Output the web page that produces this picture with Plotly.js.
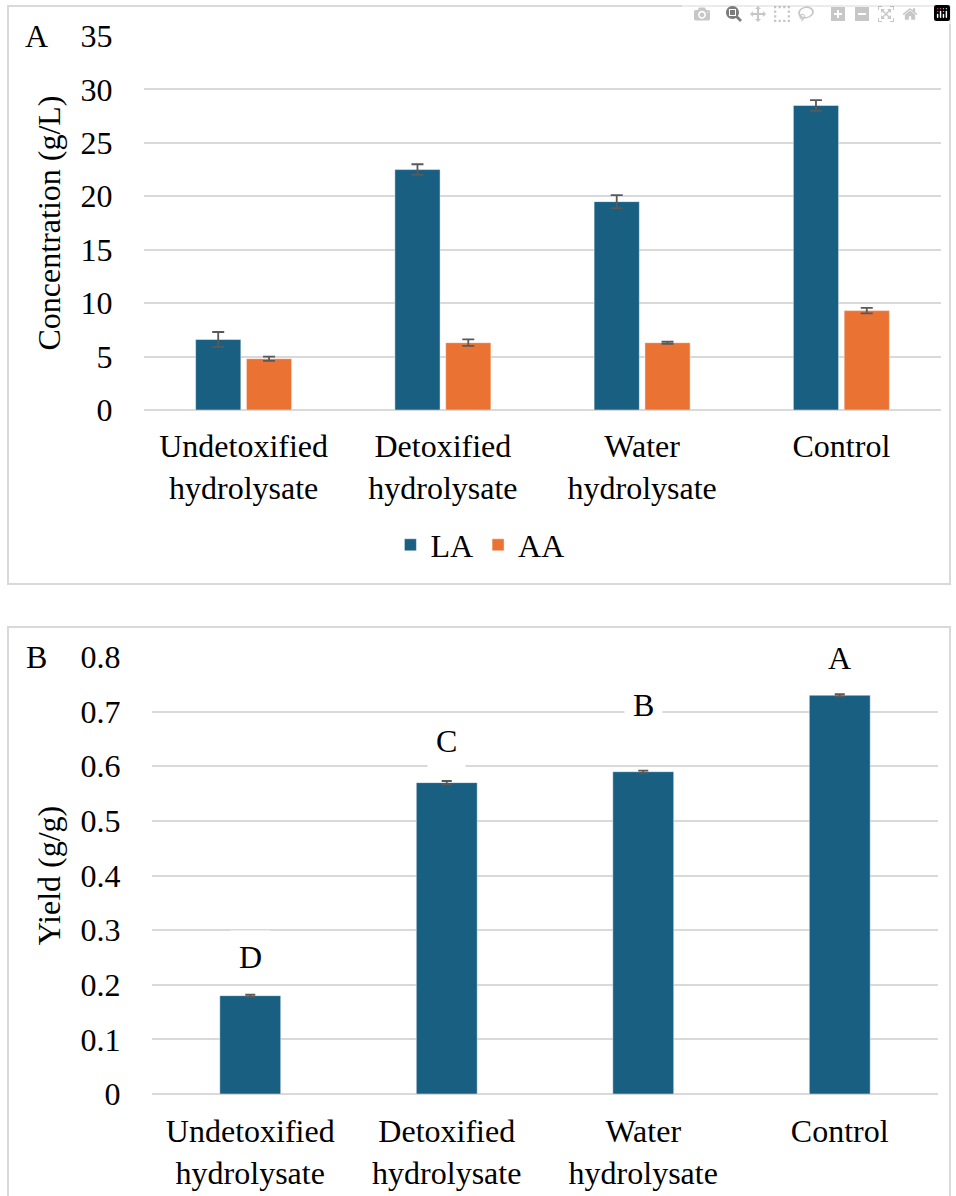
<!DOCTYPE html>
<html><head><meta charset="utf-8">
<script src="https://cdn.plot.ly/plotly-3.0.1.min.js"></script>
<style>
html, body { margin:0; padding:0; background:#fff; }
#chart text { font-family: "Liberation Serif", "Times New Roman", Tinos, serif !important; }
</style>
</head><body><div id="chart"></div>
<script>
var categories = ["Undetoxified<br>hydrolysate", "Detoxified<br>hydrolysate", "Water<br>hydrolysate", "Control"];
var laConc = [6.6, 22.5, 19.5, 28.5];
var laErr  = [0.7, 0.5, 0.6, 0.5];
var aaConc = [4.8, 6.3, 6.3, 9.3];
var aaErr  = [0.2, 0.3, 0.1, 0.25];
var yieldVals = [0.18, 0.57, 0.59, 0.73];
var yieldErr  = [0.002, 0.003, 0.002, 0.002];
var letters = ["D", "C", "B", "A"];
var letterHeights = [0.251, 0.646, 0.712, 0.798];

var figW = 956, figH = 1196;
function toPx(v) { return v / figW; }
function toPy(v) { return 1 - v / figH; }
var gridCol = "#d9d9d9";
var serif = "Liberation Serif";

var traces = [
  {type:"bar", name:"LA", x:categories, y:laConc, xaxis:"x", yaxis:"y",
   marker:{color:"#185F82", line:{color:"rgba(255,255,255,0.45)", width:1}},
   error_y:{type:"data", array:laErr, visible:true, color:"#595959", thickness:1.8, width:6}},
  {type:"bar", name:"AA", x:categories, y:aaConc, xaxis:"x", yaxis:"y",
   marker:{color:"#EA7333", line:{color:"rgba(255,255,255,0.45)", width:1}},
   error_y:{type:"data", array:aaErr, visible:true, color:"#595959", thickness:1.8, width:6}},
  {type:"bar", name:"Yield", x:categories, y:yieldVals, xaxis:"x2", yaxis:"y2",
   showlegend:false, width:0.31,
   marker:{color:"#185F82", line:{color:"rgba(255,255,255,0.45)", width:1}},
   error_y:{type:"data", array:yieldErr, visible:true, color:"#595959", thickness:1.8, width:5}}
];

var annotations = [];
for (var i = 0; i < letters.length; i++) {
  annotations.push({xref:"x2", yref:"y2", x:categories[i], y:letterHeights[i], text:letters[i], showarrow:false,
    font:{family:serif, size:32, color:"#000"}, bgcolor:"#fff", borderpad:8, yanchor:"middle"});
}
annotations.push({xref:"paper", yref:"paper", x:toPx(36), y:toPy(36), text:"A", showarrow:false,
  font:{family:serif, size:32, color:"#000"}, xanchor:"center", yanchor:"middle"});
annotations.push({xref:"paper", yref:"paper", x:toPx(36), y:toPy(657), text:"B", showarrow:false,
  font:{family:serif, size:32, color:"#000"}, xanchor:"center", yanchor:"middle"});

var layout = {
  width:figW, height:figH, margin:{l:0, r:0, t:0, b:0},
  font:{family:serif, size:32, color:"#000"},
  barmode:"group", bargap:0.49, bargroupgap:0.11,
  showlegend:true,
  legend:{orientation:"h", x:0.502, xanchor:"center", y:toPy(545), yanchor:"middle",
          font:{family:serif, size:32, color:"#000"}, itemwidth:30, tracegroupgap:0},
  xaxis:{domain:[toPx(144), toPx(941)], anchor:"y", showgrid:false, showline:false,
         ticks:"outside", ticklen:8, tickcolor:"rgba(0,0,0,0)",
         tickfont:{family:serif, size:32, color:"#000"}},
  yaxis:{domain:[toPy(410), toPy(36)], anchor:"x", range:[0,35], dtick:5, tick0:0,
         showgrid:true, gridcolor:gridCol, gridwidth:1.5, zeroline:true, zerolinecolor:gridCol, zerolinewidth:1.5,
         showline:false, ticks:"outside", ticklen:24, tickcolor:"rgba(0,0,0,0)",
         tickfont:{family:serif, size:32, color:"#000"},
         title:{text:"Concentration (g/L)", font:{family:serif, size:32, color:"#000"}, standoff:10}},
  xaxis2:{domain:[toPx(152), toPx(938)], anchor:"y2", showgrid:false, showline:false,
          ticks:"outside", ticklen:9, tickcolor:"rgba(0,0,0,0)",
          tickfont:{family:serif, size:32, color:"#000"}},
  yaxis2:{domain:[toPy(1094), toPy(657)], anchor:"x2", range:[0,0.8], dtick:0.1, tick0:0,
          showgrid:true, gridcolor:gridCol, gridwidth:1.5, zeroline:true, zerolinecolor:gridCol, zerolinewidth:1.5,
          showline:false, ticks:"outside", ticklen:24, tickcolor:"rgba(0,0,0,0)",
          tickfont:{family:serif, size:32, color:"#000"},
          title:{text:"Yield (g/g)", font:{family:serif, size:32, color:"#000"}, standoff:10}},
  shapes:[
    {type:"rect", xref:"paper", yref:"paper", x0:toPx(8), x1:toPx(950), y0:toPy(584), y1:toPy(6),
     line:{color:"#d9d9d9", width:2}, fillcolor:"rgba(0,0,0,0)"},
    {type:"rect", xref:"paper", yref:"paper", x0:toPx(8), x1:toPx(950), y0:toPy(1200), y1:toPy(627),
     line:{color:"#d9d9d9", width:2}, fillcolor:"rgba(0,0,0,0)"}
  ],
  annotations:annotations
};
Plotly.newPlot("chart", traces, layout);
if (document.fonts && document.fonts.load) {
  document.fonts.load('32px "Liberation Serif"').then(function () {
    Plotly.relayout("chart", {"font.family": serif});
  }).catch(function () {});
}
</script></body></html>
